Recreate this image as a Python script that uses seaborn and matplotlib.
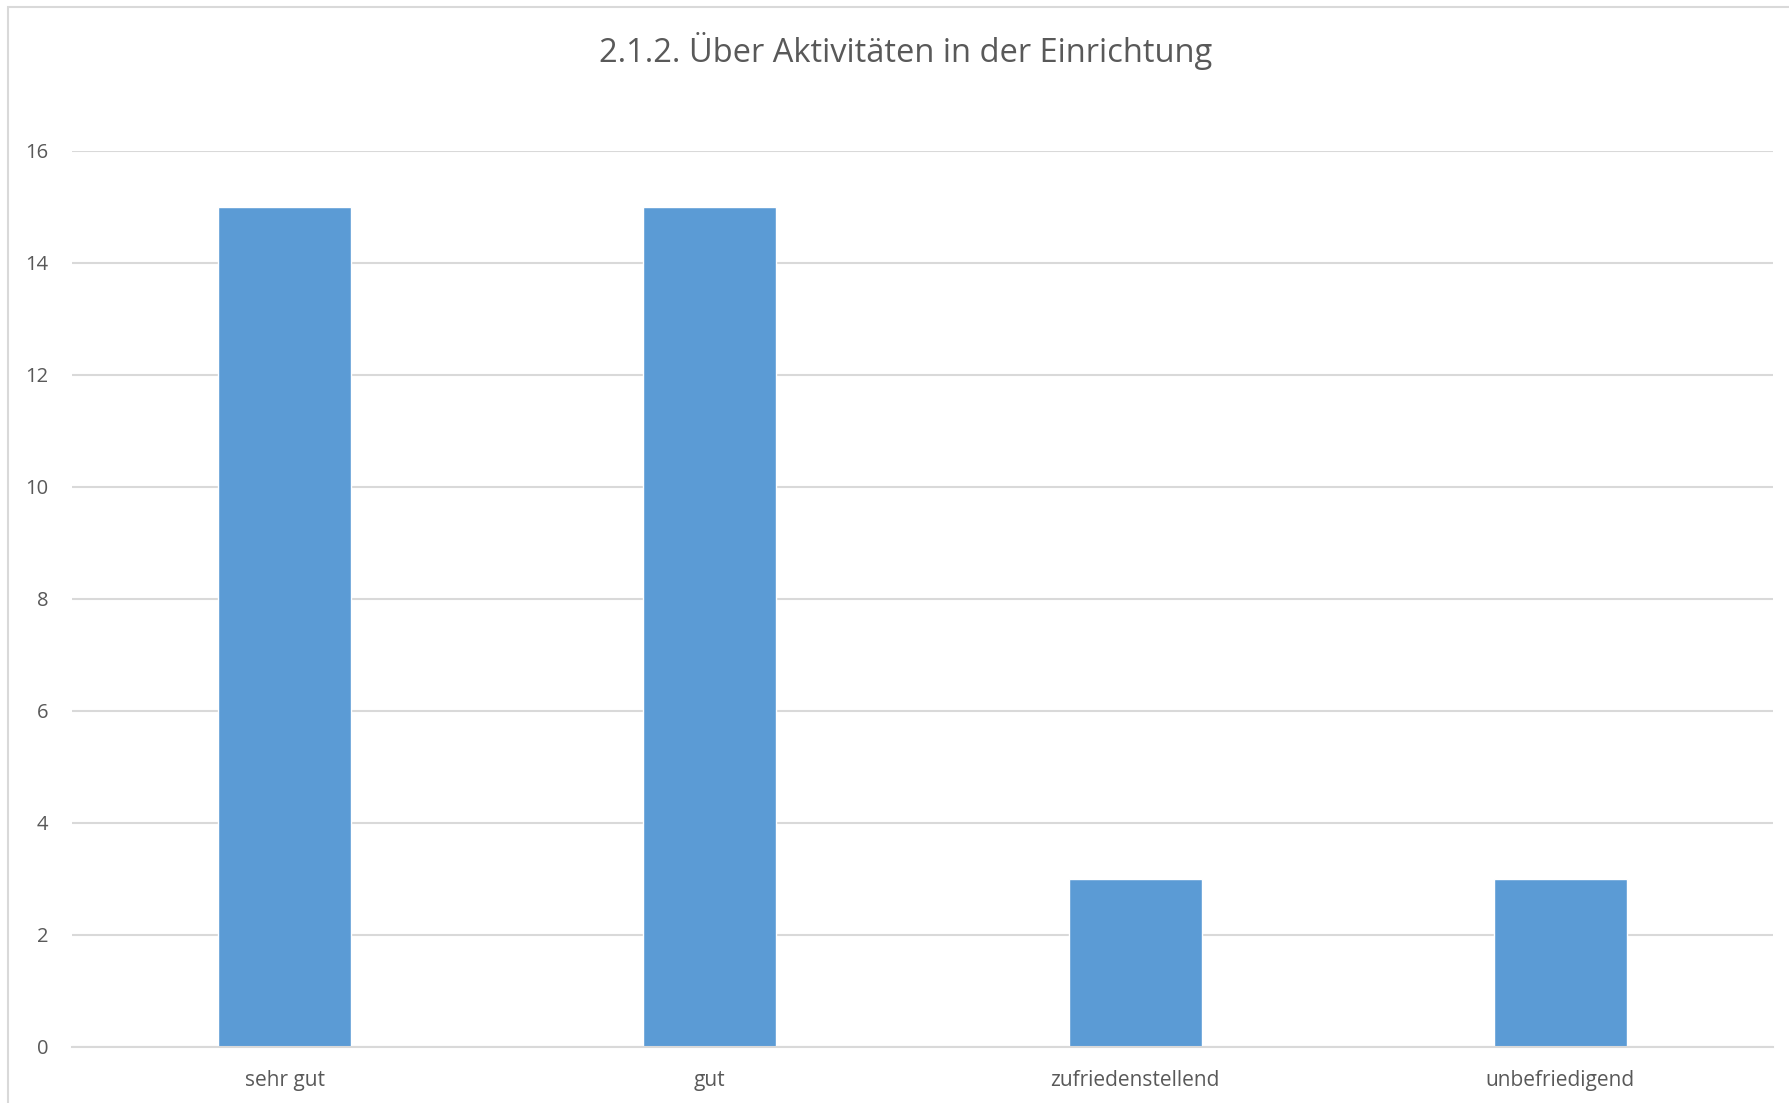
import matplotlib
matplotlib.use("Agg")
import matplotlib.pyplot as plt
import seaborn as sns
import pandas as pd
from matplotlib.patches import Rectangle

# chart data
categories = ["sehr gut", "gut", "zufriedenstellend", "unbefriedigend"]
counts = [15, 15, 3, 3]
y_ticks = [0, 2, 4, 6, 8, 10, 12, 14, 16]
title = "2.1.2. Über Aktivitäten in der Einrichtung"

BAR = "#5B9BD5"
GRID = "#D9D9D9"
TEXT = "#595959"

sns.set_theme(style="white")
plt.rcParams["font.family"] = ["Open Sans", "DejaVu Sans"]

W, H = 1789, 1103
fig = plt.figure(figsize=(W / 100, H / 100), dpi=100)
fig.patch.set_facecolor("white")

# light frame of the chart area (only left and top visible in the crop)
fig.patches.append(Rectangle((8 / W, -0.1), 1.2, 1 - 7 / H + 0.1,
                             transform=fig.transFigure, fill=False,
                             edgecolor=GRID, linewidth=1.5))

ax = fig.add_axes([72 / W, 1 - 1046.5 / H, (1773 - 72) / W, (1046.5 - 151) / H])
df = pd.DataFrame({"cat": categories, "n": counts})
sns.barplot(data=df, x="cat", y="n", color=BAR, saturation=1, width=0.313, ax=ax)

ax.set_ylim(0, 16)
ax.set_yticks(y_ticks)
ax.set_xlim(-0.5, len(categories) - 0.5)
ax.yaxis.grid(True, color=GRID, linewidth=1.5)
ax.set_axisbelow(True)
for s in ["top", "right", "left"]:
    ax.spines[s].set_visible(False)
ax.spines["bottom"].set_color(GRID)
ax.spines["bottom"].set_linewidth(1.5)
ax.set_xlabel("")
ax.set_ylabel("")
ax.tick_params(axis="y", length=0, pad=17, labelsize=14.5, labelcolor=TEXT)
ax.tick_params(axis="x", length=0, pad=17, labelsize=15, labelcolor=TEXT)

fig.text(906 / W, 1 - 51 / H, title, ha="center", va="center", fontsize=23.5, color=TEXT)

fig.savefig("out.png", dpi=100, facecolor="white")
